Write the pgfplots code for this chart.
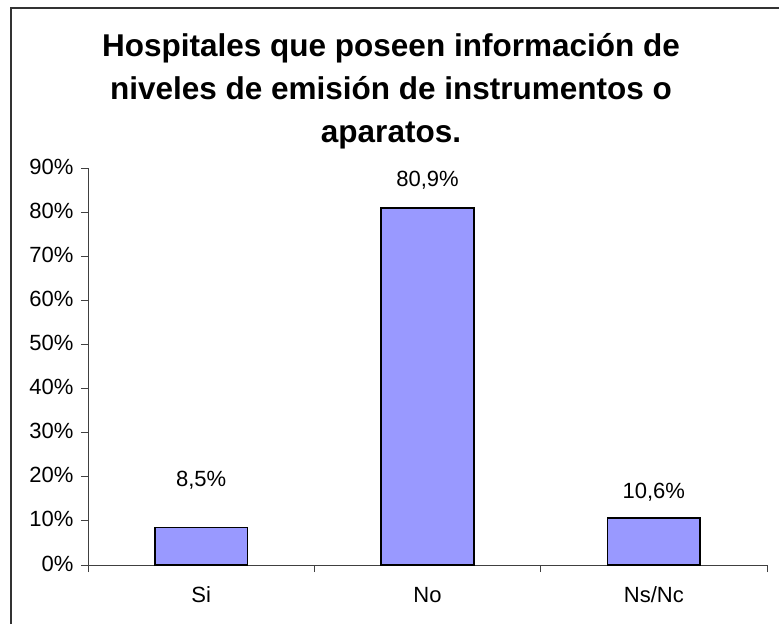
\documentclass[border=0pt]{standalone}
\usepackage{fontspec}
\setmainfont{Liberation Sans}
\usepackage{pgfplots}
\pgfplotsset{compat=1.18}
\definecolor{barblue}{RGB}{153,153,255}
\begin{document}
\begin{tikzpicture}[x=1pt,y=1pt]
% coordinates relative to the lower-left corner of the axis box
% page = 779 x 624, axis corner at (88,59) from bottom-left of page
\draw[line width=1.3pt, black!80] (-77,-59) -- (-77,557) -- (691,557);
\node[font=\fontsize{31.5}{37}\selectfont\bfseries, anchor=base] at (303,508) {Hospitales que poseen información de};
\node[font=\fontsize{31.5}{37}\selectfont\bfseries, anchor=base] at (303,465) {niveles de emisión de instrumentos o};
\node[font=\fontsize{31.5}{37}\selectfont\bfseries, anchor=base] at (303,422) {aparatos.};
\begin{axis}[
    scale only axis, width=679pt, height=397pt,
    xmin=0, xmax=3, ymin=0, ymax=90,
    axis lines=left,
    axis line style={-, line width=0.8pt, black!75},
    tick align=outside,
    major tick length=7pt,
    tick style={black!75, line width=0.8pt},
    tick label style={font=\fontsize{22}{26}\selectfont},
    xtick={0,1,2,3}, xticklabels={},
    extra x ticks={0.5,1.5,2.5},
    extra x tick labels={Si,No,Ns/Nc},
    extra x tick style={major tick length=0pt},
    xticklabel style={anchor=base, yshift=-37pt},
    ytick={0,10,...,90},
    yticklabels={0\%,10\%,20\%,30\%,40\%,50\%,60\%,70\%,80\%,90\%},
    yticklabel style={anchor=base east, xshift=-4pt, yshift=-6pt},
]
\addplot[ybar, bar width=0.41, fill=barblue, draw=black, line width=1.6pt]
    coordinates {(0.5,8.5) (1.5,80.9) (2.5,10.6)};
% data labels, placed as in the original
\addplot[draw=none, mark=none, nodes near coords, point meta=explicit symbolic,
    nodes near coords style={anchor=center, font=\fontsize{22}{26}\selectfont}]
    coordinates {(0.5,19.3) [{8,5\%}] (1.5,87.3) [{80,9\%}] (2.5,16.6) [{10,6\%}]};
\end{axis}
\pgfresetboundingbox
\path (-88,-59) rectangle (691,565);
\end{tikzpicture}
\end{document}
